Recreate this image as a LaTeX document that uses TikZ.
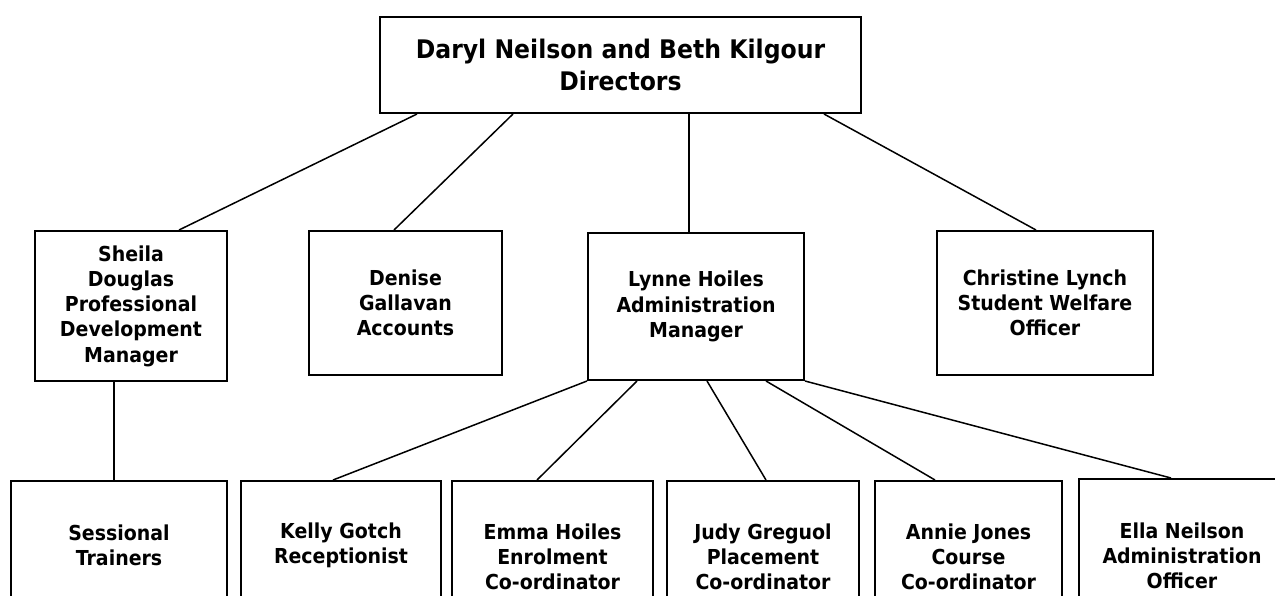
\documentclass[tikz,border=0pt]{standalone}
\usepackage{fontspec}
\setmainfont{DejaVu Sans}[FakeStretch=0.92]
\usetikzlibrary{calc}
\tikzset{
  orgbox/.style={draw, line width=1pt, fill=white, align=center, inner sep=0pt,
    font=\bfseries\fontsize{10.3}{12.6}\selectfont},
  topbox/.style={orgbox, font=\bfseries\fontsize{12.8}{16}\selectfont},
  link/.style={line width=0.75pt},
}

\begin{document}
\begin{tikzpicture}[x=0.5pt, y=-0.5pt]
      \useasboundingbox (0,0) rectangle (1275,595);
      \clip (0,0) rectangle (1275,595);

      \node[topbox] at (620.5,65) [minimum width=240.5pt, minimum height=48pt] (dirs) {Daryl Neilson and Beth Kilgour\\Directors};

      \node[orgbox] at (131,306) [minimum width=96pt, minimum height=75pt] (sheila) {Sheila\\Douglas\\Professional\\Development\\Manager};
      \node[orgbox] at (405.5,303) [minimum width=96.5pt, minimum height=72pt] (denise) {Denise\\Gallavan\\Accounts};
      \node[orgbox] at (696,306.5) [minimum width=108pt, minimum height=73.5pt] (lynne) {Lynne Hoiles\\Administration\\Manager};
      \node[orgbox] at (1045,303) [minimum width=108pt, minimum height=72pt] (christine) {Christine Lynch\\Student Welfare\\Officer};

      \node[orgbox] at (119,545) [minimum width=108pt, minimum height=64pt] (sessional) {Sessional\\Trainers};
      \node[orgbox] at (341,545) [minimum width=100pt, minimum height=64pt] (kelly) {Kelly Gotch\\Receptionist};
      \node[orgbox] at (552.5,557) [minimum width=100.5pt, minimum height=76pt] (emma) {Emma Hoiles\\Enrolment\\Co-ordinator};
      \node[orgbox] at (763,557) [minimum width=96pt, minimum height=76pt] (judy) {Judy Greguol\\Placement\\Co-ordinator};
      \node[orgbox] at (968.5,557) [minimum width=93.5pt, minimum height=76pt] (annie) {Annie Jones\\Course\\Co-ordinator};
      \node[orgbox] at (1182,556) [minimum width=103pt, minimum height=77pt] (ella) {Ella Neilson\\Administration\\Officer};

      \draw[link] ($(dirs.south west)+(38,0)$) -- ($(sheila.north west)+(145,0)$);
      \draw[link] ($(dirs.south west)+(134,0)$) -- ($(denise.north west)+(86,0)$);
      \draw[link] ($(dirs.south west)+(310,0)$) -- ($(lynne.north west)+(102,0)$);
      \draw[link] ($(dirs.south west)+(445,0)$) -- ($(christine.north west)+(100,0)$);

      \draw[link] ($(sheila.south west)+(80,0)$) -- ($(sessional.north west)+(104,0)$);

      \draw[link] (lynne.south west) -- ($(kelly.north west)+(93,0)$);
      \draw[link] ($(lynne.south west)+(50,0)$) -- ($(emma.north west)+(86,0)$);
      \draw[link] ($(lynne.south west)+(120,0)$) -- ($(judy.north west)+(100,0)$);
      \draw[link] ($(lynne.south west)+(179,0)$) -- ($(annie.north west)+(61,0)$);
      \draw[link] (lynne.south east) -- ($(ella.north west)+(93,0)$);
\end{tikzpicture}
\end{document}
